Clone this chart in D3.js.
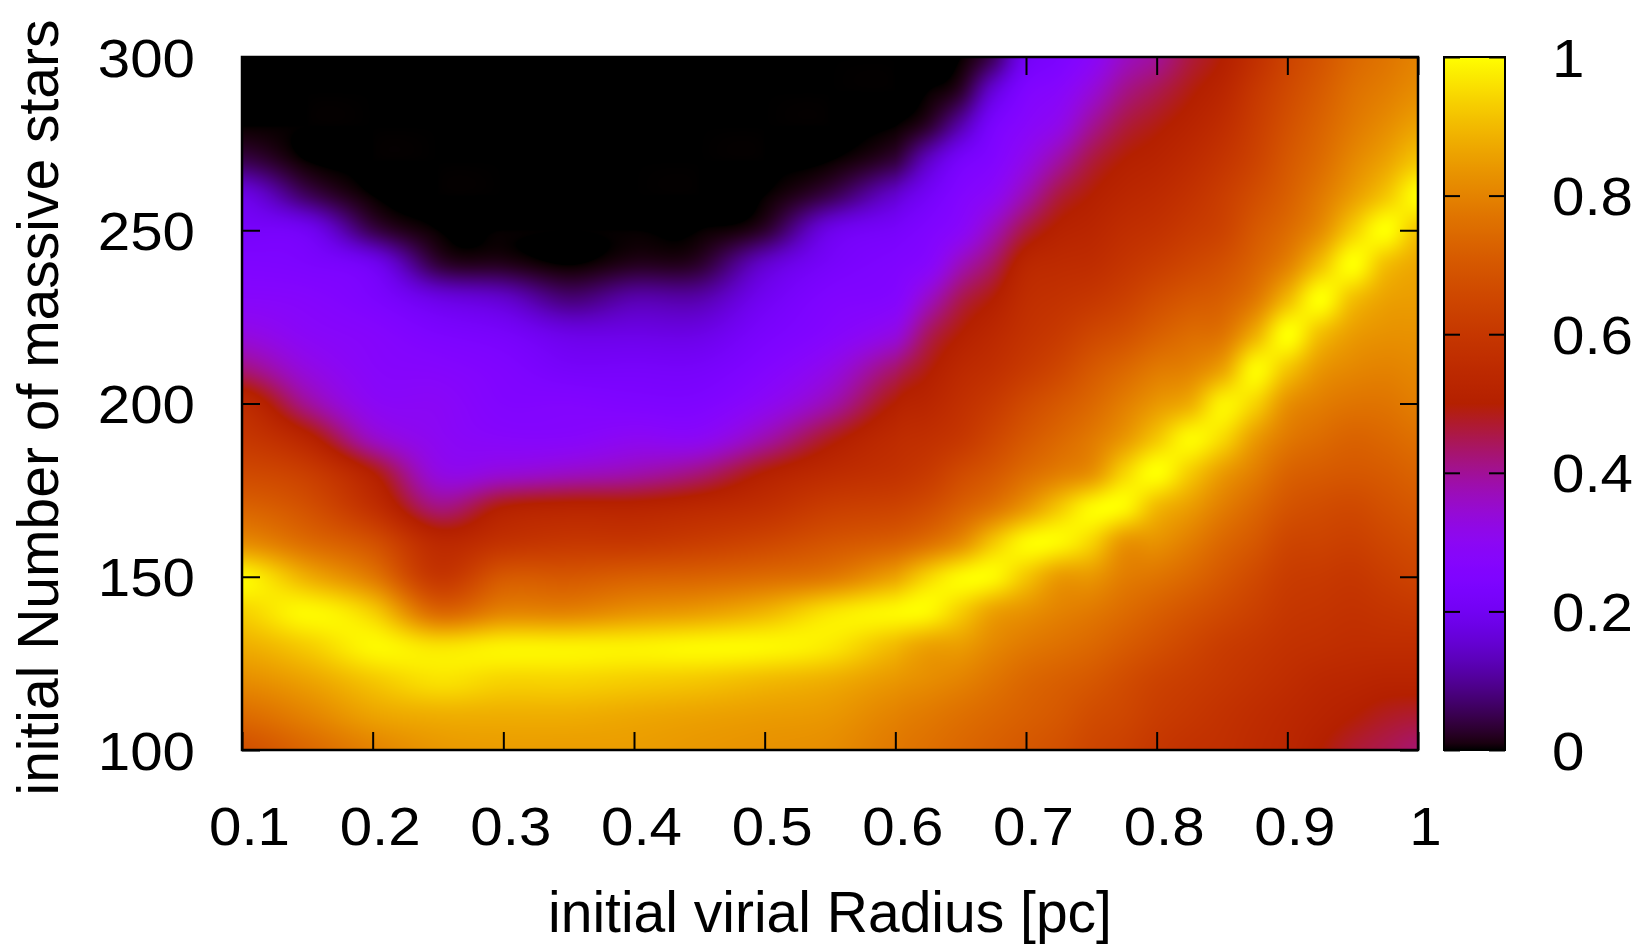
<!DOCTYPE html>
<html>
<head>
<meta charset="utf-8">
<script src="https://cdn.jsdelivr.net/npm/d3@7/dist/d3.min.js"></script>
<style>
  html, body { margin: 0; padding: 0; background: #ffffff; }
  svg { display: block; }
  text { font-family: "Liberation Sans", Arial, Helvetica, sans-serif; fill: #000; }
</style>
</head>
<body>
<svg id="chart" width="1650" height="947"></svg>
<script>
// ---------------- data ----------------
// initial virial radius [pc] (grid columns; denser where the ridge bends)
const radii = [0.10, 0.15, 0.20, 0.25, 0.30, 0.35, 0.40, 0.45, 0.50, 0.55,
               0.60, 0.625, 0.65, 0.675, 0.70, 0.725, 0.75, 0.775, 0.80, 0.825,
               0.85, 0.875, 0.90, 0.925, 0.95, 0.975, 1.00];
// initial number of massive stars (grid rows)
const numbers = [100, 110, 120, 130, 140, 150, 160, 170, 180, 190, 200,
                 210, 220, 230, 240, 250, 260, 270, 280, 290, 300];
// values per radius column, listed from N=100 up to N=300
const values = [
  [0.68,0.75,0.82,0.88,0.94,0.99,0.82,0.73,0.66,0.60,0.55,0.42,0.33,0.28,0.25,0.22,0.18,0.05,0,0,0],   // 0.10
  [0.74,0.80,0.86,0.93,0.99,0.88,0.75,0.68,0.62,0.52,0.40,0.33,0.29,0.27,0.24,0.20,0.06,0,0,0,0],      // 0.15
  [0.80,0.86,0.92,0.99,0.93,0.78,0.68,0.57,0.50,0.36,0.30,0.28,0.27,0.24,0.20,0.05,0,0,0,0,0],         // 0.20
  [0.84,0.88,0.96,0.96,0.74,0.60,0.54,0.42,0.33,0.30,0.29,0.27,0.24,0.18,0.04,0,0,0,0,0,0],            // 0.25
  [0.85,0.88,0.94,0.98,0.80,0.70,0.58,0.50,0.34,0.28,0.26,0.25,0.22,0.15,0.02,0,0,0,0,0,0],            // 0.30
  [0.85,0.88,0.94,0.98,0.80,0.70,0.60,0.52,0.36,0.28,0.26,0.22,0.18,0.08,0,0,0,0,0,0,0],               // 0.35
  [0.85,0.87,0.93,0.98,0.83,0.72,0.60,0.52,0.38,0.30,0.25,0.22,0.18,0.12,0.02,0,0,0,0,0,0],            // 0.40
  [0.84,0.86,0.92,0.99,0.85,0.73,0.62,0.54,0.42,0.30,0.25,0.22,0.18,0.12,0.03,0,0,0,0,0,0],            // 0.45
  [0.83,0.85,0.90,0.99,0.89,0.75,0.65,0.57,0.50,0.38,0.30,0.26,0.23,0.20,0.15,0.03,0,0,0,0,0],         // 0.50
  [0.82,0.84,0.88,0.97,0.96,0.78,0.69,0.62,0.55,0.48,0.38,0.32,0.27,0.25,0.22,0.18,0.05,0,0,0,0],      // 0.55
  [0.78,0.80,0.84,0.90,0.99,0.86,0.72,0.64,0.58,0.55,0.50,0.43,0.33,0.27,0.25,0.22,0.15,0.04,0,0,0],   // 0.60
  [0.76,0.78,0.82,0.86,0.99,0.94,0.76,0.67,0.61,0.57,0.53,0.49,0.44,0.36,0.28,0.25,0.21,0.14,0.03,0,0],      // 0.625
  [0.74,0.76,0.80,0.85,0.93,0.99,0.82,0.72,0.66,0.60,0.57,0.54,0.50,0.45,0.37,0.29,0.26,0.22,0.12,0.03,0],    // 0.65
  [0.72,0.74,0.77,0.81,0.86,0.99,0.92,0.77,0.70,0.65,0.61,0.57,0.54,0.50,0.44,0.37,0.30,0.26,0.23,0.16,0.06], // 0.675
  [0.70,0.72,0.74,0.78,0.83,0.92,0.99,0.84,0.75,0.70,0.66,0.61,0.58,0.56,0.53,0.46,0.38,0.32,0.28,0.25,0.20], // 0.70
  [0.68,0.70,0.72,0.76,0.80,0.85,0.99,0.92,0.79,0.74,0.70,0.65,0.61,0.58,0.55,0.51,0.46,0.39,0.32,0.28,0.24], // 0.725
  [0.65,0.67,0.70,0.74,0.78,0.84,0.94,0.99,0.83,0.78,0.74,0.70,0.65,0.60,0.56,0.53,0.50,0.46,0.40,0.34,0.29], // 0.75
  [0.63,0.65,0.67,0.71,0.75,0.79,0.84,0.99,0.94,0.84,0.79,0.74,0.68,0.63,0.59,0.56,0.53,0.50,0.46,0.41,0.36], // 0.775
  [0.60,0.62,0.64,0.68,0.72,0.77,0.83,0.90,1.00,0.92,0.84,0.78,0.72,0.67,0.62,0.58,0.55,0.52,0.49,0.45,0.40], // 0.80
  [0.58,0.60,0.62,0.65,0.69,0.74,0.79,0.85,0.93,0.99,0.88,0.80,0.75,0.70,0.65,0.61,0.58,0.55,0.52,0.49,0.46], // 0.825
  [0.57,0.58,0.60,0.62,0.66,0.70,0.74,0.79,0.85,0.95,0.98,0.86,0.77,0.72,0.68,0.64,0.62,0.59,0.56,0.53,0.50], // 0.85
  [0.55,0.56,0.58,0.60,0.63,0.66,0.70,0.74,0.79,0.85,0.94,0.99,0.88,0.78,0.73,0.70,0.67,0.64,0.62,0.60,0.57], // 0.875
  [0.53,0.54,0.56,0.58,0.60,0.62,0.65,0.69,0.73,0.78,0.83,0.92,1.00,0.90,0.80,0.75,0.72,0.70,0.68,0.66,0.64], // 0.90
  [0.50,0.52,0.54,0.57,0.59,0.61,0.64,0.67,0.71,0.75,0.79,0.84,0.91,1.00,0.91,0.82,0.78,0.75,0.73,0.71,0.69], // 0.925
  [0.47,0.50,0.53,0.56,0.58,0.60,0.63,0.66,0.70,0.73,0.77,0.81,0.85,0.91,1.00,0.93,0.85,0.81,0.78,0.76,0.74], // 0.95
  [0.45,0.48,0.52,0.56,0.59,0.62,0.65,0.68,0.71,0.74,0.77,0.80,0.83,0.86,0.91,1.00,0.92,0.86,0.82,0.79,0.77], // 0.975
  [0.43,0.47,0.52,0.56,0.60,0.64,0.67,0.70,0.73,0.76,0.79,0.81,0.83,0.85,0.87,0.92,1.00,0.92,0.86,0.82,0.80]  // 1.00
];
const xTicks = [0.1, 0.2, 0.3, 0.4, 0.5, 0.6, 0.7, 0.8, 0.9, 1];
const yTicks = [100, 150, 200, 250, 300];
const cbTicks = [0, 0.2, 0.4, 0.6, 0.8, 1];
const xTitle = "initial virial Radius [pc]";
const yTitle = "initial Number of massive stars";

// ---------------- layout ----------------
const plot = { left: 242, right: 1418, top: 57, bottom: 750 };
const cb = { left: 1444, right: 1505, top: 57, bottom: 750 };
const tickFont = 53, titleFont = 57, tickStretch = 1.1;

const svg = d3.select("#chart");
const x = d3.scaleLinear().domain([0.1, 1]).range([plot.left, plot.right]);
const y = d3.scaleLinear().domain([100, 300]).range([plot.bottom, plot.top]);
const c = d3.scaleLinear().domain([0, 1]).range([cb.bottom, cb.top]);

// gnuplot default pm3d palette (rgbformulae 7,5,15)
function palette(t) {
  t = Math.max(0, Math.min(1, t));
  const r = Math.sqrt(t), g = t * t * t, b = Math.max(0, Math.sin(2 * Math.PI * t));
  return [Math.round(r * 255), Math.round(g * 255), Math.round(b * 255)];
}

// ---------------- heat map image ----------------
function cr(p0, p1, p2, p3, t) {
  return 0.5 * (2 * p1 + (-p0 + p2) * t + (2 * p0 - 5 * p1 + 4 * p2 - p3) * t * t +
                (-p0 + 3 * p1 - 3 * p2 + p3) * t * t * t);
}
const nx = radii.length, ny = numbers.length;
const gxScale = d3.scaleLinear().domain(radii).range(d3.range(nx)).clamp(true);
const gyScale = d3.scaleLinear().domain(numbers).range(d3.range(ny)).clamp(true);
function zAt(ix, iy) {
  ix = Math.max(0, Math.min(nx - 1, ix));
  iy = Math.max(0, Math.min(ny - 1, iy));
  return values[ix][iy];
}
function sample(rv, nv) {
  const gx = gxScale(rv), gy = gyScale(nv);
  const ix = Math.min(Math.floor(gx), nx - 2), iy = Math.min(Math.floor(gy), ny - 2);
  const tx = gx - ix, ty = gy - iy;
  const rows = [];
  for (let m = -1; m <= 2; m++) {
    rows.push(cr(zAt(ix - 1, iy + m), zAt(ix, iy + m), zAt(ix + 1, iy + m), zAt(ix + 2, iy + m), tx));
  }
  return cr(rows[0], rows[1], rows[2], rows[3], ty);
}
const W = plot.right - plot.left, H = plot.bottom - plot.top;
const canvas = document.createElement("canvas");
canvas.width = W; canvas.height = H;
const ctx = canvas.getContext("2d");
const img = ctx.createImageData(W, H);
for (let j = 0; j < H; j++) {
  const nv = y.invert(plot.top + j + 0.5);
  for (let i = 0; i < W; i++) {
    const rv = x.invert(plot.left + i + 0.5);
    const col = palette(sample(rv, nv));
    const k = (j * W + i) * 4;
    img.data[k] = col[0]; img.data[k + 1] = col[1]; img.data[k + 2] = col[2]; img.data[k + 3] = 255;
  }
}
ctx.putImageData(img, 0, 0);
svg.append("image")
  .attr("x", plot.left).attr("y", plot.top)
  .attr("width", W).attr("height", H)
  .attr("preserveAspectRatio", "none")
  .attr("href", canvas.toDataURL("image/png"));

// ---------------- axes ----------------
function styleAxis(g) {
  g.select(".domain").remove();
  g.selectAll(".tick line").attr("stroke", "#000").attr("stroke-width", 2);
  g.selectAll(".tick text").attr("font-size", tickFont).attr("fill", "#000")
    .attr("font-family", '"Liberation Sans", Arial, sans-serif')
    .each(function () {
      if (!this.textContent) return;
      const w = this.getComputedTextLength();
      d3.select(this).attr("textLength", w * tickStretch).attr("lengthAdjust", "spacingAndGlyphs");
    });
}
const tickLen = 18;
svg.append("g").attr("transform", `translate(0,${plot.bottom})`)
  .call(d3.axisBottom(x).tickValues(xTicks).tickFormat(d3.format("")).tickSizeInner(-tickLen).tickSizeOuter(0).tickPadding(57))
  .call(styleAxis)
  .call(g => g.selectAll(".tick text").attr("dx", 7));
svg.append("g").attr("transform", `translate(0,${plot.top})`)
  .call(d3.axisTop(x).tickValues(xTicks).tickFormat("").tickSizeInner(-tickLen).tickSizeOuter(0))
  .call(styleAxis);
svg.append("g").attr("transform", `translate(${plot.left},0)`)
  .call(d3.axisLeft(y).tickValues(yTicks).tickFormat(d3.format("d")).tickSizeInner(-tickLen).tickSizeOuter(0).tickPadding(47))
  .call(styleAxis)
  .call(g => g.selectAll(".tick text").attr("dy", "0.36em"));
svg.append("g").attr("transform", `translate(${plot.right},0)`)
  .call(d3.axisRight(y).tickValues(yTicks).tickFormat("").tickSizeInner(-tickLen).tickSizeOuter(0))
  .call(styleAxis);

svg.append("rect")
  .attr("x", plot.left).attr("y", plot.top).attr("width", W).attr("height", H)
  .attr("fill", "none").attr("stroke", "#000").attr("stroke-width", 2.5);

// ---------------- colour box ----------------
const defs = svg.append("defs");
const grad = defs.append("linearGradient").attr("id", "cbgrad")
  .attr("x1", 0).attr("y1", 1).attr("x2", 0).attr("y2", 0);
d3.range(0, 1.0001, 0.01).forEach(t => {
  const col = palette(t);
  grad.append("stop").attr("offset", t).attr("stop-color", `rgb(${col[0]},${col[1]},${col[2]})`);
});
svg.append("rect")
  .attr("x", cb.left).attr("y", c(1)).attr("width", cb.right - cb.left).attr("height", c(0) - c(1))
  .attr("fill", "url(#cbgrad)");
const cbTickLen = 16;
svg.append("g").attr("transform", `translate(${cb.right},0)`)
  .call(d3.axisRight(c).tickValues(cbTicks).tickFormat(d3.format("")).tickSizeInner(-cbTickLen).tickSizeOuter(0).tickPadding(47))
  .call(styleAxis)
  .call(g => g.selectAll(".tick text").attr("dy", "0.36em"));
svg.append("g").attr("transform", `translate(${cb.left},0)`)
  .call(d3.axisLeft(c).tickValues(cbTicks).tickFormat("").tickSizeInner(-cbTickLen).tickSizeOuter(0))
  .call(styleAxis);
svg.append("rect")
  .attr("x", cb.left).attr("y", c(1)).attr("width", cb.right - cb.left).attr("height", c(0) - c(1))
  .attr("fill", "none").attr("stroke", "#000").attr("stroke-width", 2);

// ---------------- titles ----------------
svg.append("text")
  .attr("x", (plot.left + plot.right) / 2).attr("y", 932)
  .attr("text-anchor", "middle").attr("font-size", titleFont)
  .text(xTitle);
svg.append("text")
  .attr("transform", `translate(58,${(plot.top + plot.bottom) / 2 + 4}) rotate(-90)`)
  .attr("text-anchor", "middle").attr("font-size", titleFont)
  .text(yTitle);
</script>
</body>
</html>
